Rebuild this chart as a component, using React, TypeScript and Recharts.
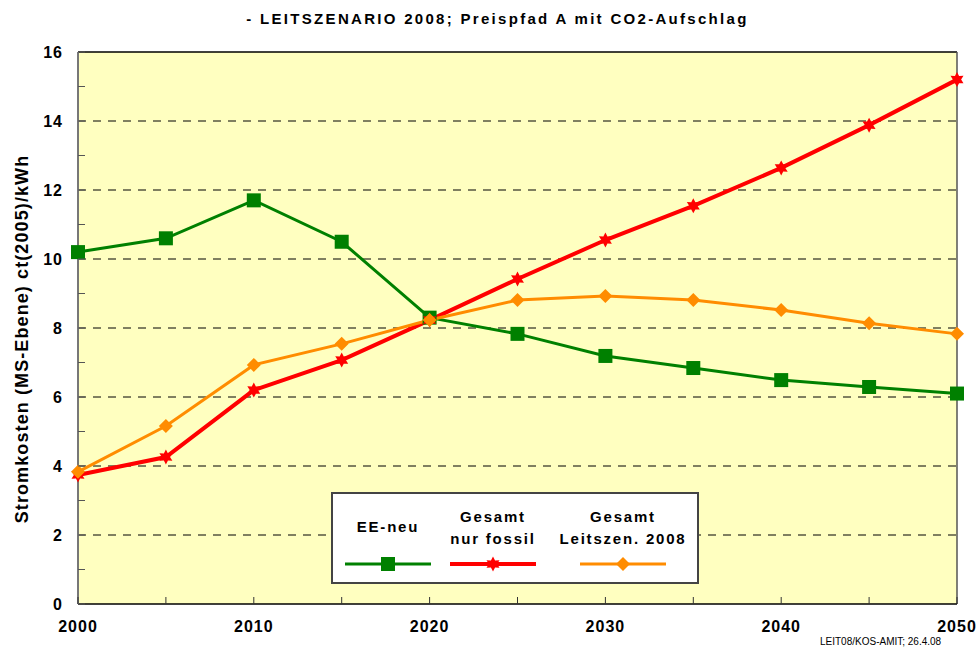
import React from "react";
import {
  LineChart,
  Line,
  XAxis,
  YAxis,
  CartesianGrid,
  ReferenceLine,
  Legend,
} from "recharts";

const YEARS = [2000, 2005, 2010, 2015, 2020, 2025, 2030, 2035, 2040, 2045, 2050];
const EE_NEU = [10.2, 10.6, 11.7, 10.5, 8.3, 7.83, 7.19, 6.84, 6.49, 6.29, 6.1];
const NUR_FOSSIL = [3.74, 4.26, 6.2, 7.07, 8.23, 9.42, 10.55, 11.54, 12.64, 13.88, 15.2];
const LEITSZEN = [3.83, 5.16, 6.93, 7.54, 8.23, 8.81, 8.93, 8.81, 8.52, 8.14, 7.83];

const Y_TICKS = [0, 1, 2, 3, 4, 5, 6, 7, 8, 9, 10, 11, 12, 13, 14, 15, 16];
const GRID_VALUES = [2, 4, 6, 8, 10, 12, 14];
const X_TICKS = [2000, 2005, 2010, 2015, 2020, 2025, 2030, 2035, 2040, 2045, 2050];

const data = YEARS.map((year, i) => ({
  year,
  ee: EE_NEU[i],
  fossil: NUR_FOSSIL[i],
  leit: LEITSZEN[i],
}));

const FONT = '"Liberation Sans", Arial, sans-serif';
const GREEN = "#008000";
const RED = "#FF0000";
const ORANGE = "#FF8C00";

const SquareDot = (props: any) => {
  const { cx, cy } = props;
  if (cx == null || cy == null) return null;
  return <rect x={cx - 7} y={cy - 7} width={14} height={14} fill={GREEN} />;
};

const starPoints = (cx: number, cy: number, r: number) => {
  const pts: string[] = [];
  for (let k = 0; k < 12; k++) {
    const rad = k % 2 === 0 ? r : r * 0.55;
    const a = (Math.PI / 6) * k - Math.PI / 2;
    pts.push(`${cx + rad * Math.cos(a)},${cy + rad * Math.sin(a)}`);
  }
  return pts.join(" ");
};

const StarDot = (props: any) => {
  const { cx, cy } = props;
  if (cx == null || cy == null) return null;
  return <polygon points={starPoints(cx, cy, 7.5)} fill={RED} />;
};

const DiamondDot = (props: any) => {
  const { cx, cy } = props;
  if (cx == null || cy == null) return null;
  return (
    <polygon
      points={`${cx},${cy - 7} ${cx + 7},${cy} ${cx},${cy + 7} ${cx - 7},${cy}`}
      fill={ORANGE}
    />
  );
};

const YTick = (props: any) => {
  const { x, y, payload } = props;
  const v = payload.value;
  return (
    <g>
      <line x1={x} y1={y} x2={x + 7} y2={y} stroke="#555" strokeWidth={1} />
      {v % 2 === 0 && (
        <text
          x={x - 15}
          y={y + 6}
          textAnchor="end"
          fontFamily={FONT}
          fontWeight="bold"
          fontSize={16}
          letterSpacing={1}
          fill="#000"
        >
          {v}
        </text>
      )}
    </g>
  );
};

const XTick = (props: any) => {
  const { x, y, payload } = props;
  const v = payload.value;
  return (
    <g>
      <line x1={x} y1={y} x2={x} y2={y - 7} stroke="#333" strokeWidth={1} />
      {v % 10 === 0 && (
        <text
          x={x}
          y={y + 28}
          textAnchor="middle"
          fontFamily={FONT}
          fontWeight="bold"
          fontSize={16}
          letterSpacing={1}
          fill="#000"
        >
          {v}
        </text>
      )}
    </g>
  );
};

const LEGEND_ITEMS = [
  { lines: ["EE-neu"], color: GREEN, width: 3, marker: "square", center: 55 },
  { lines: ["Gesamt", "nur fossil"], color: RED, width: 4, marker: "star", center: 160 },
  { lines: ["Gesamt", "Leitszen. 2008"], color: ORANGE, width: 3, marker: "diamond", center: 290 },
];

const LegendBox = () => (
  <div
    style={{
      position: "relative",
      width: 364,
      height: 88,
      background: "#fff",
      border: "2px solid #444",
      fontFamily: FONT,
      fontWeight: "bold",
      fontSize: 15,
      letterSpacing: 1.8,
      boxSizing: "content-box",
    }}
  >
    {LEGEND_ITEMS.map((it) => (
      <React.Fragment key={it.lines.join()}>
        <div
          style={{
            position: "absolute",
            left: it.center - 80,
            width: 160,
            top: it.lines.length === 1 ? 22 : 12,
            textAlign: "center",
            lineHeight: "22px",
            whiteSpace: "nowrap",
          }}
        >
          {it.lines.map((l) => (
            <div key={l}>{l}</div>
          ))}
        </div>
        <svg
          width={90}
          height={20}
          style={{ position: "absolute", left: it.center - 45, top: 60 }}
        >
          <line x1={2} y1={10} x2={88} y2={10} stroke={it.color} strokeWidth={it.width} />
          {it.marker === "square" && <rect x={38} y={3} width={14} height={14} fill={it.color} />}
          {it.marker === "star" && <polygon points={starPoints(45, 10, 7.5)} fill={it.color} />}
          {it.marker === "diamond" && (
            <polygon points="45,3 52,10 45,17 38,10" fill={it.color} />
          )}
        </svg>
      </React.Fragment>
    ))}
  </div>
);

export default function App() {
  return (
    <div
      style={{
        position: "absolute",
        left: 0,
        top: 0,
        width: 977,
        height: 649,
        background: "#fff",
        fontFamily: FONT,
        overflow: "hidden",
      }}
    >
      <div
        style={{
          position: "absolute",
          top: 10,
          left: 9,
          width: 977,
          textAlign: "center",
          fontWeight: "bold",
          fontSize: 15,
          letterSpacing: 2.3,
        }}
      >
        - LEITSZENARIO 2008; Preispfad A mit CO2-Aufschlag
      </div>
      <div
        style={{
          position: "absolute",
          left: 22,
          top: 339,
          transform: "translate(-50%, -50%) rotate(-90deg)",
          whiteSpace: "nowrap",
          fontWeight: "bold",
          fontSize: 18,
          letterSpacing: 1.1,
        }}
      >
        Stromkosten (MS-Ebene) ct(2005)/kWh
      </div>
      <div
        style={{
          position: "absolute",
          left: 820,
          top: 636,
          fontSize: 10,
          lineHeight: "12px",
          whiteSpace: "nowrap",
        }}
      >
        LEIT08/KOS-AMIT; 26.4.08
      </div>
      <LineChart
        width={977}
        height={649}
        data={data}
        margin={{ top: 52, right: 20, bottom: 0, left: 0 }}
      >
        <CartesianGrid
          vertical={false}
          horizontalValues={GRID_VALUES}
          stroke="#000"
          strokeDasharray="8 7"
          fill="#FFFFC0"
          fillOpacity={1}
        />
        <XAxis
          dataKey="year"
          type="number"
          domain={[2000, 2050]}
          ticks={X_TICKS}
          interval={0}
          height={45}
          tickSize={0}
          tickMargin={0}
          tick={<XTick />}
          axisLine={{ stroke: "#000", strokeWidth: 1.5 }}
          tickLine={false}
        />
        <YAxis
          type="number"
          domain={[0, 16]}
          ticks={Y_TICKS}
          interval={0}
          width={78}
          tickSize={0}
          tickMargin={0}
          tick={<YTick />}
          axisLine={{ stroke: "#777", strokeWidth: 2 }}
          tickLine={false}
        />
        <ReferenceLine y={16} stroke="#000" strokeWidth={1.5} />
        <ReferenceLine x={2050} stroke="#555" strokeWidth={1.5} />
        <Legend
          verticalAlign="middle"
          layout="horizontal"
          content={<LegendBox />}
          wrapperStyle={{ position: "absolute", left: 331, top: 492, width: 368, height: 92 }}
        />
        <Line
          dataKey="ee"
          name="EE-neu"
          stroke={GREEN}
          strokeWidth={3}
          dot={<SquareDot />}
          isAnimationActive={false}
        />
        <Line
          dataKey="fossil"
          name="Gesamt nur fossil"
          stroke={RED}
          strokeWidth={4}
          dot={<StarDot />}
          isAnimationActive={false}
        />
        <Line
          dataKey="leit"
          name="Gesamt Leitszen. 2008"
          stroke={ORANGE}
          strokeWidth={3}
          dot={<DiamondDot />}
          isAnimationActive={false}
        />
      </LineChart>
    </div>
  );
}
